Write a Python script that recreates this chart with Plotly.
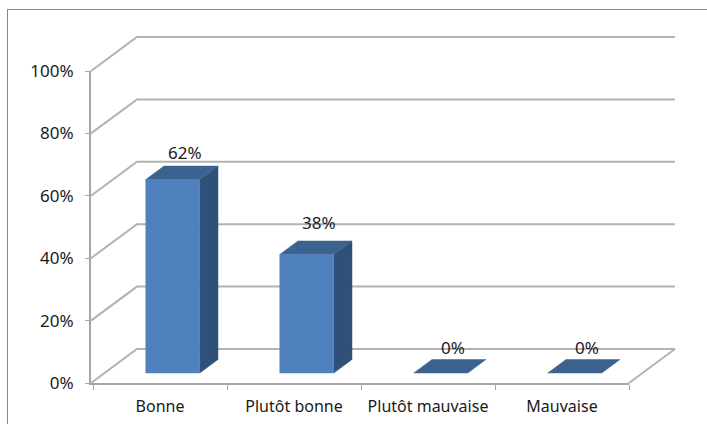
import plotly.graph_objects as go

# values
categories = ['Bonne', 'Plutôt bonne', 'Plutôt mauvaise', 'Mauvaise']
values = [62, 38, 0, 0]
y_ticks = [0, 20, 40, 60, 80, 100]
label_lift = [7.8, 9.4, 7.5, 7.5]  # how far the label floats over its bar, in %

WIDTH, HEIGHT = 707, 425
PLOT_LEFT, PLOT_RIGHT, PLOT_TOP, PLOT_BOTTOM = 91, 629, 71, 383
X_START = -0.015

# fake 3d: how far the back of the box is shifted, in axis units
DEPTH_X = 0.343
DEPTH_Y = 10.9
BAR_START, BAR_END = 0.293, 0.696
BAR_Z0, BAR_Z1 = 0.294, 0.69

GRID_COLOR = '#b2b2b2'
AXIS_COLOR = '#a6a6a6'
FRONT_COLOR = '#4f81bd'
SIDE_COLOR = '#2f5078'
TOP_COLOR = '#3c638f'
FONT = 'Noto Sans'

# px per axis unit, the 3d layer gets a full page axis with the same scale
X_SCALE = (PLOT_RIGHT - PLOT_LEFT) / (4 - X_START)
Y_SCALE = (PLOT_BOTTOM - PLOT_TOP) / 100
X2_RANGE = [X_START - PLOT_LEFT / X_SCALE, 4 + (WIDTH - PLOT_RIGHT) / X_SCALE]
Y2_RANGE = [-(HEIGHT - PLOT_BOTTOM) / Y_SCALE, 100 + PLOT_TOP / Y_SCALE]


def project(x, y, z):
    return x + z * DEPTH_X, y + z * DEPTH_Y


def polygon(points, color):
    xs = [project(*p)[0] for p in points] + [project(*points[0])[0]]
    ys = [project(*p)[1] for p in points] + [project(*points[0])[1]]
    return go.Scatter(x=xs, y=ys, xaxis='x2', yaxis='y2', mode='lines', fill='toself',
                      fillcolor=color, line=dict(color=color, width=0.5), hoverinfo='skip')


def wall_line(xs, ys):
    return go.Scatter(x=xs, y=ys, xaxis='x2', yaxis='y2', mode='lines',
                      line=dict(color=GRID_COLOR, width=2), hoverinfo='skip')


fig = go.Figure()

# keeps the real axes alive, draws nothing
fig.add_trace(go.Scatter(x=[i + 0.5 for i in range(len(values))], y=values, mode='none',
                         hoverinfo='skip'))

# back wall grid
back_left = X_START + DEPTH_X
back_right = 4 + DEPTH_X
for v in y_ticks:
    fig.add_trace(wall_line([X_START, back_left, back_right], [v, v + DEPTH_Y, v + DEPTH_Y]))
fig.add_trace(wall_line([4, back_right], [0, DEPTH_Y]))

# boxes
for i, v in enumerate(values):
    x0, x1 = i + BAR_START, i + BAR_END
    if v > 0:
        fig.add_trace(polygon([(x1, 0, BAR_Z0), (x1, 0, BAR_Z1), (x1, v, BAR_Z1), (x1, v, BAR_Z0)], SIDE_COLOR))
    fig.add_trace(polygon([(x0, v, BAR_Z0), (x1, v, BAR_Z0), (x1, v, BAR_Z1), (x0, v, BAR_Z1)], TOP_COLOR))
    if v > 0:
        fig.add_trace(polygon([(x0, 0, BAR_Z0), (x1, 0, BAR_Z0), (x1, v, BAR_Z0), (x0, v, BAR_Z0)], FRONT_COLOR))

# data labels
fig.add_trace(go.Scatter(
    x=[i + (BAR_START + BAR_END) / 2 + 0.09 + BAR_Z0 * DEPTH_X for i in range(len(values))],
    y=[v + BAR_Z0 * DEPTH_Y + lift for v, lift in zip(values, label_lift)],
    text=[f'{v}%' for v in values],
    xaxis='x2', yaxis='y2',
    mode='text', textposition='middle center',
    textfont=dict(family=FONT, size=17, color='#1a1a1a'),
    hoverinfo='skip',
))

# chart frame, only top and left show in the crop
fig.add_shape(type='line', xref='paper', yref='paper', x0=7 / WIDTH, x1=1,
              y0=1 - 9.5 / HEIGHT, y1=1 - 9.5 / HEIGHT, line=dict(color='#868686', width=1))
fig.add_shape(type='line', xref='paper', yref='paper', x0=7.5 / WIDTH, x1=7.5 / WIDTH,
              y0=1 - 9 / HEIGHT, y1=1 - 424 / HEIGHT, line=dict(color='#868686', width=1))

fig.update_layout(
    width=WIDTH, height=HEIGHT,
    margin=dict(l=0, r=0, t=0, b=0, pad=0, autoexpand=False),
    paper_bgcolor='white', plot_bgcolor='rgba(0,0,0,0)',
    showlegend=False,
    font=dict(family=FONT, size=17, color='#1a1a1a'),
    xaxis=dict(
        domain=[PLOT_LEFT / WIDTH, PLOT_RIGHT / WIDTH], range=[X_START, 4],
        tickvals=[i + 0.5 for i in range(len(categories))], ticktext=categories,
        ticks='', showgrid=False, zeroline=False,
        showline=True, linecolor=AXIS_COLOR, linewidth=2,
        ticklabelstandoff=8, tickfont=dict(size=16),
        minor=dict(tickvals=[0, 1, 2, 3, 4], ticks='outside', ticklen=5, tickcolor=AXIS_COLOR,
                   tickwidth=1, showgrid=False),
    ),
    yaxis=dict(
        domain=[1 - PLOT_BOTTOM / HEIGHT, 1 - PLOT_TOP / HEIGHT], range=[0, 100],
        tickvals=y_ticks, ticktext=[f'{t}%' for t in y_ticks],
        ticks='outside', ticklen=4, tickcolor=AXIS_COLOR, tickwidth=1,
        showgrid=False, zeroline=False,
        showline=True, linecolor=AXIS_COLOR, linewidth=2,
        ticklabelstandoff=8,
    ),
    xaxis2=dict(domain=[0, 1], range=X2_RANGE, visible=False, anchor='y2'),
    yaxis2=dict(domain=[0, 1], range=Y2_RANGE, visible=False, anchor='x2'),
)

fig.write_html("out.html", config=dict(displayModeBar=False),
               post_script="document.body.style.margin='0';")
